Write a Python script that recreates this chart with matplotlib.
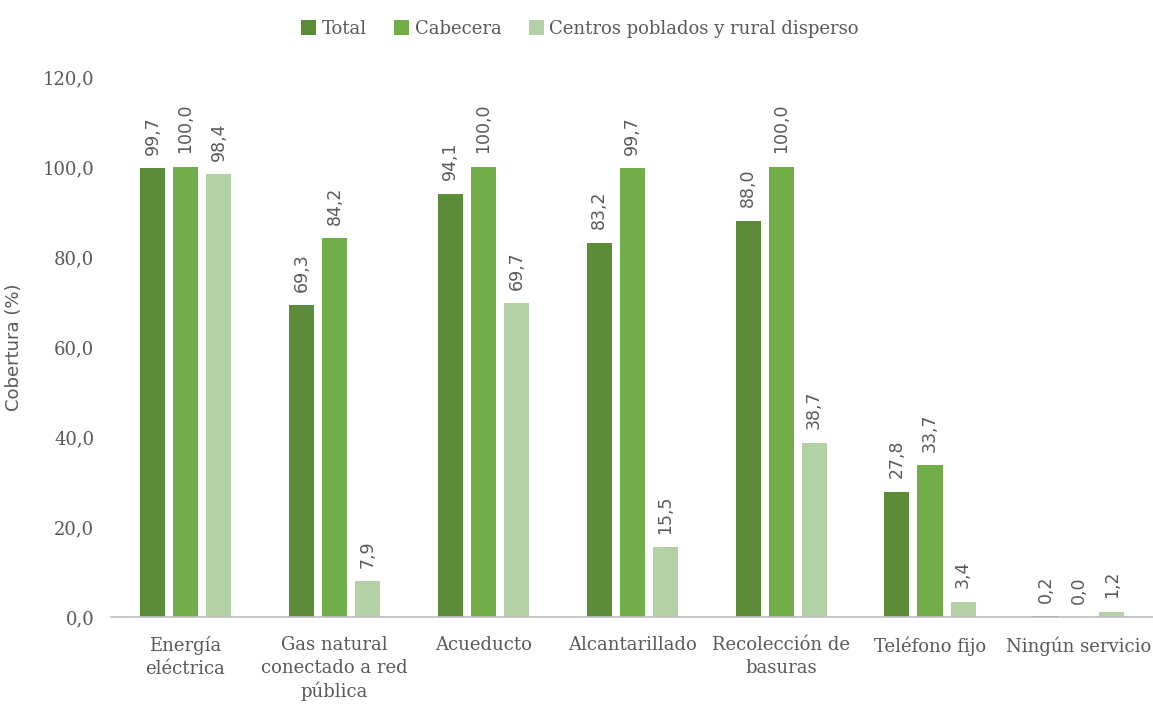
import numpy as np
import matplotlib.pyplot as plt

categorias = ['Energía\neléctrica', 'Gas natural\nconectado a red\npública', 'Acueducto',
              'Alcantarillado', 'Recolección de\nbasuras', 'Teléfono fijo', 'Ningún servicio']
series = ['Total', 'Cabecera', 'Centros poblados y rural disperso']
total = [99.7, 69.3, 94.1, 83.2, 88.0, 27.8, 0.2]
cabecera = [100.0, 84.2, 100.0, 99.7, 100.0, 33.7, 0.0]
rural = [98.4, 7.9, 69.7, 15.5, 38.7, 3.4, 1.2]
yticks = [0, 20, 40, 60, 80, 100, 120]

colores = ['#5B8C3A', '#70AD47', '#B4D1A6']
gris = '#595959'

plt.rcParams['font.family'] = ['DejaVu Serif']
fig = plt.figure(figsize=(11.53, 7.06), dpi=100)
ax = fig.add_axes([0.0963, 0.126, 0.904, 0.765])

x = np.arange(len(categorias))
w = 0.168
paso = 0.222
for k, (vals, nombre) in enumerate(zip([total, cabecera, rural], series)):
    pos = x + (k - 1) * paso
    ax.bar(pos, vals, w, color=colores[k], label=nombre, zorder=2)
    for p, v in zip(pos, vals):
        ax.text(p, v + 3.0, f'{v:.1f}'.replace('.', ','), rotation=90, ha='center', va='bottom',
                fontsize=12.5, color=gris, family='DejaVu Sans')

ax.set_xlim(-0.5, len(categorias) - 0.5)
ax.set_ylim(0, 120)
ax.set_yticks(yticks)
ax.set_yticklabels([f'{t:.1f}'.replace('.', ',') for t in yticks], fontsize=13, color=gris)
ax.set_xticks(x)
ax.set_xticklabels(categorias, fontsize=13, color=gris, linespacing=1.3)
ax.tick_params(axis='y', length=0, pad=12)
ax.tick_params(axis='x', length=0, pad=14)
ax.set_ylabel('Cobertura (%)', fontsize=13, color=gris, family='DejaVu Sans', labelpad=14)
for s in ['top', 'right', 'left']:
    ax.spines[s].set_visible(False)
ax.spines['bottom'].set_color('#BFBFBF')
ax.spines['bottom'].set_linewidth(1.2)

fig.legend(loc='upper center', bbox_to_anchor=(0.503, 0.995), ncol=3, frameon=False,
           fontsize=13, handlelength=0.85, handleheight=0.85, handletextpad=0.3,
           columnspacing=1.5, labelcolor=gris)

plt.savefig('out.png')
